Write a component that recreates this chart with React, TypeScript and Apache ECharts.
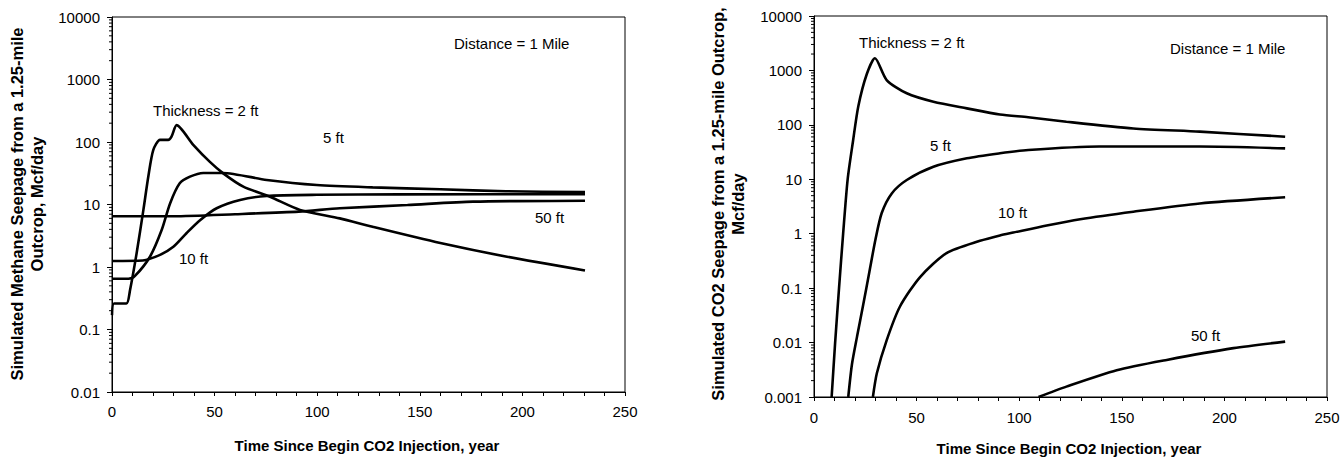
import React, { useEffect, useRef } from "react";
import * as echarts from "echarts";

// ---- Data: [time (year), seepage (Mcf/day)] ----
const methane2ft = [
  [0, 0.17], [1, 0.26], [7, 0.26], [8.8, 0.43], [12, 1.66], [15.3, 8.2], [17.7, 28], [20.1, 74],
  [23.4, 108], [27.4, 108], [29, 122], [31.5, 186], [39.6, 90], [47.7, 48], [54.2, 31.5],
  [64, 19.3], [77, 13.3], [91.6, 8.2], [111, 6.0], [127, 4.4], [160, 2.42], [192.5, 1.46], [230.5, 0.88],
];
const methane5ft = [
  [0, 0.65], [8, 0.65], [11.2, 0.72], [18.5, 1.46], [24.2, 3.9], [28.3, 10.4], [33, 21.8], [38, 27.9],
  [44.5, 32], [54, 32], [75.4, 24.7], [99.8, 20.5], [127, 18.8], [160, 17.5], [192, 16.3], [230.5, 15.8],
];
const methane10ft = [
  [0, 1.25], [15, 1.27], [23.4, 1.56], [29.9, 2.1], [36.4, 3.5], [42.9, 5.6], [51, 8.7], [62.4, 11.8],
  [75.4, 13.7], [99.8, 14.3], [140, 14.5], [230.5, 14.6],
];
const methane50ft = [
  [0, 6.5], [30, 6.5], [60, 7.0], [91, 7.7], [111, 8.7], [144, 9.8], [176, 11.1], [230.5, 11.5],
];

const co2_2ft = [
  [8.6, 0.001], [10.3, 0.01], [12.2, 0.1], [14.2, 1], [16.4, 10], [19.0, 50], [21.6, 220],
  [25.7, 850], [29.7, 1670], [35.4, 667], [45.2, 380], [58.2, 266],
  [74.5, 201], [90.6, 155], [104.4, 138], [123, 114], [155.6, 86], [188, 75], [229.6, 60.6],
];
const co2_5ft = [
  [16.7, 0.001], [18.5, 0.004], [21, 0.013], [24, 0.05], [27, 0.2], [30, 0.8], [33, 2.4], [37.9, 5.5],
  [45.2, 9.7], [58.2, 17], [74.5, 24.3], [90.6, 30], [104.4, 34.5], [139, 40], [188, 40], [229.6, 37],
];
const co2_10ft = [
  [28.7, 0.001], [30.6, 0.0027], [35.4, 0.011], [41.9, 0.046], [51.7, 0.16], [64.6, 0.44], [80.9, 0.74],
  [90.6, 0.93], [97.1, 1.05], [113.4, 1.42], [129.7, 1.85], [155.6, 2.54], [188, 3.6], [229.6, 4.67],
];
const co2_50ft = [
  [109.4, 0.001], [123, 0.00155], [147.5, 0.0031], [171.9, 0.0048], [204.4, 0.0079], [229.6, 0.0104],
];

// ---- Tick values ----
const leftMajor = [0.01, 0.1, 1, 10, 100, 1000, 10000];
const rightMajor = [0.001, 0.01, 0.1, 1, 10, 100, 1000, 10000];
const minorMultipliers = [2, 3, 4, 5, 6, 7, 8, 9];

const minorFrom = (majors: number[]) => {
  const out: number[] = [];
  for (let i = 0; i < majors.length - 1; i++) {
    for (const m of minorMultipliers) out.push(+(majors[i] * m).toPrecision(3));
  }
  return out;
};

const FONT = '"Liberation Sans", Arial, sans-serif';

const fmtLog = (v: number) => {
  const e = Math.round(Math.log10(v));
  return e >= 0 ? String(Math.pow(10, e)) : Math.pow(10, e).toFixed(-e);
};

export default function App() {
  const ref = useRef<HTMLDivElement>(null);
  useEffect(() => {
    const chart = echarts.init(ref.current!, null, { renderer: "svg" });
    const lineSeries = (data: number[][], xi: number, yi: number) => ({
      type: "line",
      data,
      xAxisIndex: xi,
      yAxisIndex: yi,
      showSymbol: false,
      symbol: "none",
      smooth: 0.25,
      lineStyle: { color: "#000", width: 2.6 },
      silent: true,
    });
    const minorTickSeries = (majors: number[], xi: number, yi: number) => ({
      type: "custom",
      xAxisIndex: xi,
      yAxisIndex: yi,
      silent: true,
      clip: false,
      data: minorFrom(majors).map((v) => [0, v]),
      renderItem: (_params: any, api: any) => {
        const p = api.coord([0, api.value(1)]);
        return {
          type: "line",
          shape: { x1: p[0] - 3, y1: p[1], x2: p[0], y2: p[1] },
          style: { stroke: "#000", lineWidth: 1 },
        };
      },
    });
    const xAxis = (gi: number, labelMargin: number) => ({
      type: "value",
      gridIndex: gi,
      min: 0,
      max: 250,
      interval: 50,
      axisLine: { show: true, lineStyle: { color: "#000", width: 1 } },
      axisTick: { show: true, length: 4, lineStyle: { color: "#000" } },
      minorTick: { show: true, splitNumber: 5, length: 4, lineStyle: { color: "#000" } },
      splitLine: { show: false },
      axisLabel: { color: "#000", fontSize: 15, fontFamily: FONT, margin: labelMargin },
    });
    const yMain = (gi: number, min: number, majors: number[]) => ({
      type: "log",
      logBase: 10,
      gridIndex: gi,
      min,
      max: 10000,
      axisLine: { show: true, lineStyle: { color: "#000", width: 1 } },
      axisTick: { show: true, length: 5, customValues: majors, lineStyle: { color: "#000" } },
      splitLine: { show: false },
      axisLabel: {
        color: "#000", fontSize: 15, fontFamily: FONT, margin: 12,
        customValues: majors, formatter: fmtLog,
      },
    });
    const txt = (x: number, y: number, text: string, extra: any = {}) => ({
      type: "text",
      x,
      y,
      silent: true,
      style: {
        text,
        fill: "#000",
        font: `15px ${FONT}`,
        textAlign: "left",
        textVerticalAlign: "middle",
        ...extra,
      },
    });
    const option: any = {
      animation: false,
      backgroundColor: "#fff",
      grid: [
        { left: 112, top: 17, width: 513, height: 375, show: true, borderColor: "#000", borderWidth: 1, backgroundColor: "transparent" },
        { left: 814, top: 16, width: 513, height: 381, show: true, borderColor: "#000", borderWidth: 1, backgroundColor: "transparent" },
      ],
      xAxis: [xAxis(0, 12), xAxis(1, 13)],
      yAxis: [yMain(0, 0.01, leftMajor), yMain(1, 0.001, rightMajor)],
      series: [
        lineSeries(methane2ft, 0, 0),
        lineSeries(methane5ft, 0, 0),
        lineSeries(methane10ft, 0, 0),
        lineSeries(methane50ft, 0, 0),
        lineSeries(co2_2ft, 1, 1),
        lineSeries(co2_5ft, 1, 1),
        lineSeries(co2_10ft, 1, 1),
        lineSeries(co2_50ft, 1, 1),
        minorTickSeries(leftMajor, 0, 0),
        minorTickSeries(rightMajor, 1, 1),
      ],
      graphic: [
        txt(454, 43, "Distance = 1 Mile"),
        txt(153, 110, "Thickness = 2 ft"),
        txt(323, 137, "5 ft"),
        txt(179, 258, "10 ft"),
        txt(535, 217, "50 ft"),
        txt(1170, 48, "Distance = 1 Mile"),
        txt(859, 42, "Thickness = 2 ft"),
        txt(930, 145, "5 ft"),
        txt(998, 212, "10 ft"),
        txt(1191, 335, "50 ft"),
        txt(367, 445, "Time Since Begin CO2 Injection, year", { font: `bold 15px ${FONT}`, textAlign: "center" }),
        txt(1069, 448, "Time Since Begin CO2 Injection, year", { font: `bold 15px ${FONT}`, textAlign: "center" }),
        {
          type: "text", x: 27, y: 204, rotation: Math.PI / 2, silent: true,
          style: {
            text: "Simulated Methane Seepage from a 1.25-mile\nOutcrop, Mcf/day",
            fill: "#000", font: `bold 16.5px ${FONT}`, textAlign: "center", textVerticalAlign: "middle", lineHeight: 20,
          },
        },
        {
          type: "text", x: 728, y: 204, rotation: Math.PI / 2, silent: true,
          style: {
            text: "Simulated CO2 Seepage from a 1.25-mile Outcrop,\nMcf/day",
            fill: "#000", font: `bold 16.5px ${FONT}`, textAlign: "center", textVerticalAlign: "middle", lineHeight: 20,
          },
        },
      ],
    };
    chart.setOption(option);
    return () => chart.dispose();
  }, []);
  return (
    <div
      ref={ref}
      style={{ position: "fixed", left: 0, top: 0, width: 1343, height: 459, background: "#fff" }}
    />
  );
}
